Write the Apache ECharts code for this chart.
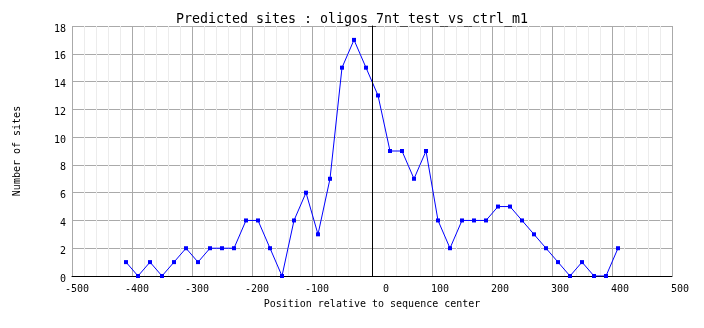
<!DOCTYPE html>
<html>
<head>
<meta charset="utf-8">
<script src="https://cdn.jsdelivr.net/npm/echarts@6/dist/echarts.min.js"></script>
<style>
  html, body { margin: 0; padding: 0; background: #fff; }
  #chart { width: 704px; height: 328px; }
</style>
</head>
<body>
<div id="chart"></div>
<script>
// Window centres (bp, relative to sequence centre) and predicted site counts
const positions = [-410, -390, -370, -350, -330, -310, -290, -270, -250, -230,
                   -210, -190, -170, -150, -130, -110, -90, -70, -50, -30,
                   -10, 10, 30, 50, 70, 90, 110, 130, 150, 170,
                   190, 210, 230, 250, 270, 290, 310, 330, 350, 370,
                   390, 410];
const siteCounts = [1, 0, 1, 0, 1, 2, 1, 2, 2, 2,
                    4, 4, 2, 0, 4, 6, 3, 7, 15, 17,
                    15, 13, 9, 9, 7, 9, 4, 2, 4, 4,
                    4, 5, 5, 4, 3, 2, 1, 0, 1, 0,
                    0, 2];
const titleText = 'Predicted sites : oligos_7nt_test_vs_ctrl_m1';
const xName = 'Position relative to sequence center';
const yName = 'Number of sites';

const mono = "'DejaVu Sans Mono', 'Liberation Mono', monospace";
const chart = echarts.init(document.getElementById('chart'), null, { renderer: 'canvas' });

chart.setOption({
  animation: false,
  backgroundColor: '#ffffff',
  title: {
    text: titleText,
    left: 'center',
    top: 8,
    textStyle: { fontFamily: mono, fontSize: 13.3, fontWeight: 'normal', color: '#000' }
  },
  grid: { left: 72, right: 32, top: 26, bottom: 52 },
  xAxis: {
    type: 'value',
    min: -500, max: 500, interval: 100,
    minorTick: { show: false, splitNumber: 5 },
    minorSplitLine: { show: true, lineStyle: { color: '#ececec', width: 1 } },
    splitLine: { show: true, lineStyle: { color: '#aaaaaa', width: 1 } },
    axisLine: { show: true, onZero: false, lineStyle: { color: '#000', width: 1 } },
    axisTick: { show: false },
    axisLabel: {
      margin: 8,
      align: 'center',
      color: '#000',
      // labels are right-aligned a little to the right of each grid line
      formatter: v => '{t|' + v + '}',
      rich: { t: { width: 34, align: 'right', fontFamily: mono, fontSize: 10, color: '#000' } }
    },
    name: xName,
    nameLocation: 'middle',
    nameGap: 23,
    nameTextStyle: { fontFamily: mono, fontSize: 10, color: '#000' }
  },
  yAxis: {
    type: 'value',
    min: 0, max: 18, interval: 2,
    splitLine: { show: true, lineStyle: { color: '#aaaaaa', width: 1 } },
    axisLine: { show: true, lineStyle: { color: '#000', width: 1 } },
    axisTick: { show: false },
    axisLabel: {
      margin: 6,
      verticalAlign: 'top',
      lineHeight: 6,
      fontFamily: mono, fontSize: 10, color: '#000'
    },
    name: yName,
    nameLocation: 'middle',
    nameRotate: 90,
    nameGap: 50,
    nameTextStyle: { fontFamily: mono, fontSize: 10, color: '#000' }
  },
  series: [{
    type: 'line',
    data: positions.map((p, i) => [p, siteCounts[i]]),
    symbol: 'rect',
    symbolSize: 4,
    showSymbol: true,
    lineStyle: { color: '#0000ff', width: 1 },
    itemStyle: { color: '#0000ff' },
    markLine: {
      silent: true,
      symbol: ['none', 'none'],
      label: { show: false },
      lineStyle: { color: '#000', width: 1, type: 'solid' },
      data: [{ xAxis: 0 }]
    },
    z: 3
  }]
});
</script>
</body>
</html>
